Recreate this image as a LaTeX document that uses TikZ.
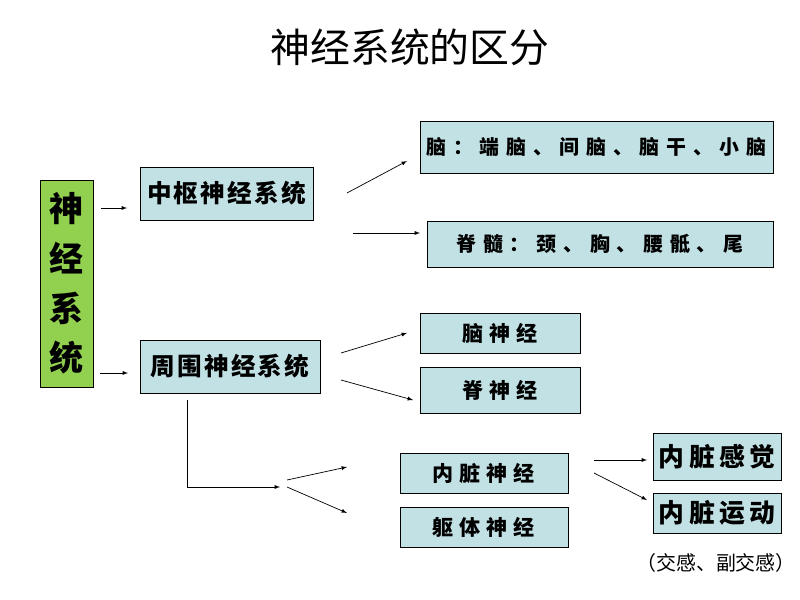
\documentclass[tikz,border=0pt]{standalone}
\usepackage{fontspec}
\newfontfamily\cjk{Noto Sans CJK SC}
\usetikzlibrary{arrows}

\definecolor{partblue}{HTML}{C2E1E5}
\definecolor{partgreen}{HTML}{92D050}

\tikzset{
	part/.style={draw=black, fill=partblue, line width=0.8pt, inner sep=0pt, align=center},
	link/.style={-latex, line width=0.6pt},
}

\begin{document}
\begin{tikzpicture}[x=0.03cm, y=-0.03cm]
\useasboundingbox (0,0) rectangle (800,600);

\node (title) at (410,47) {\fontsize{34}{34}\selectfont\cjk 神经系统的区分};

\node [part, fill=partgreen, minimum width=1.59cm, minimum height=6.21cm,
	font=\fontsize{29}{42.5}\selectfont\cjk\bfseries] (ns) at (66.5,283.5) {神\\经\\系\\统};

\node [part, minimum width=5.19cm, minimum height=1.59cm,
	font=\fontsize{21}{21}\selectfont\cjk\bfseries\addfontfeatures{LetterSpace=9}] (cns) at (226.5,193.5) {中枢神经系统};
\node [part, minimum width=5.4cm, minimum height=1.59cm,
	font=\fontsize{21}{21}\selectfont\cjk\bfseries\addfontfeatures{LetterSpace=9}] (pns) at (230,366.5) {周围神经系统};

\node [part, minimum width=10.59cm, minimum height=1.56cm,
	font=\fontsize{17}{17}\selectfont\cjk\bfseries\addfontfeatures{LetterSpace=34}] (brain) at (596.5,147) {脑：端脑、间脑、脑干、小脑};
\node [part, minimum width=10.38cm, minimum height=1.38cm,
	font=\fontsize{17}{17}\selectfont\cjk\bfseries\addfontfeatures{LetterSpace=34}] (cord) at (600,244) {脊髓：颈、胸、腰骶、尾};

\node [part, minimum width=4.8cm, minimum height=1.2cm,
	font=\fontsize{18}{18}\selectfont\cjk\bfseries\addfontfeatures{LetterSpace=28}] (cranial) at (500,333) {脑神经};
\node [part, minimum width=4.8cm, minimum height=1.38cm,
	font=\fontsize{18}{18}\selectfont\cjk\bfseries\addfontfeatures{LetterSpace=28}] (spinal) at (500,390) {脊神经};

\node [part, minimum width=5.04cm, minimum height=1.2cm,
	font=\fontsize{18}{18}\selectfont\cjk\bfseries\addfontfeatures{LetterSpace=28}] (visc) at (484,473) {内脏神经};
\node [part, minimum width=5.04cm, minimum height=1.2cm,
	font=\fontsize{18}{18}\selectfont\cjk\bfseries\addfontfeatures{LetterSpace=28}] (soma) at (484,527) {躯体神经};

\node [part, minimum width=3.84cm, minimum height=1.41cm,
	font=\fontsize{22}{22}\selectfont\cjk\bfseries\addfontfeatures{LetterSpace=17}] (sense) at (717,456.5) {内脏感觉};
\node [part, minimum width=3.84cm, minimum height=1.2cm,
	font=\fontsize{22}{22}\selectfont\cjk\bfseries\addfontfeatures{LetterSpace=17}] (motor) at (717,513) {内脏运动};

\node [font=\fontsize{17}{17}\selectfont\cjk, inner sep=1pt] (note) at (716,563) {（交感、副交感）};

% free arrow ends
\coordinate (a1) at (101,208); \coordinate (a2) at (127,208);
\coordinate (b1) at (100,373); \coordinate (b2) at (128,373);
\coordinate (c1) at (347,193); \coordinate (c2) at (407,161);
\coordinate (d1) at (353,233); \coordinate (d2) at (420,233);
\coordinate (e1) at (341,353); \coordinate (e2) at (407,333);
\coordinate (f1) at (341,380); \coordinate (f2) at (413,400);
\coordinate (g1) at (287,480); \coordinate (g2) at (347,467);
\coordinate (h1) at (287,487); \coordinate (h2) at (347,513);
\coordinate (i1) at (594,460); \coordinate (i2) at (647,460);
\coordinate (j1) at (594,473); \coordinate (j2) at (647,500);
\coordinate (k1) at (187,400); \coordinate (k2) at (280,487);

\foreach \p in {a,b,c,d,e,f,g,h,i,j}
{
	\draw [link] (\p1) -- (\p2);
}
\draw [link] (k1) |- (k2);
\end{tikzpicture}
\end{document}
